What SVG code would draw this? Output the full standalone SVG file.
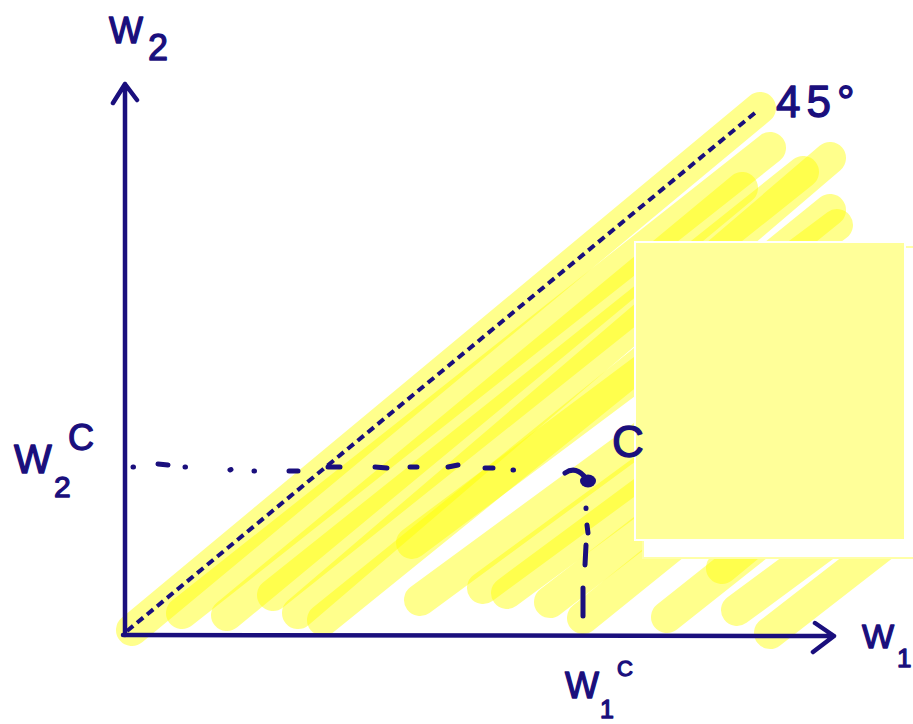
<svg xmlns="http://www.w3.org/2000/svg" width="913" height="724" viewBox="0 0 913 724">
<style>
.ink{stroke:#1a0f7d;fill:none;stroke-width:4.5;stroke-linecap:round;stroke-linejoin:round}
.dot{stroke:#1a0f7d;fill:none;stroke-width:5;stroke-linecap:round}
.hl{stroke:#ffff00;stroke-opacity:0.45;fill:none;stroke-width:32;stroke-linecap:round}
.t{font-family:"Liberation Sans","DejaVu Sans",sans-serif;fill:#1a0f7d;stroke:#1a0f7d;stroke-width:1.3;stroke-linejoin:round}
</style>
<rect width="913" height="724" fill="#ffffff"/>
<g id="highlight">
<path class="hl" d="M132,630 L760,108"/>
<path class="hl" d="M182,613 L770,148"/>
<path class="hl" d="M227,615 L742,188"/>
<path class="hl" d="M273,595 L803,172"/>
<path class="hl" d="M298,613 L830,158"/>
<path class="hl" d="M323,620 L830,210"/>
<path class="hl" d="M412,543 L837,225"/>
<path class="hl" d="M420,600 L880,262"/>
<path class="hl" d="M483,588 L900,282"/>
<path class="hl" d="M507,593 L900,302"/>
<path class="hl" d="M550,602 L900,332"/>
<path class="hl" d="M583,618 L900,362"/>
<path class="hl" d="M667,617 L900,432"/>
<path class="hl" d="M722,568 L900,420"/>
<path class="hl" d="M737,610 L913,480"/>
<path class="hl" d="M770,633 L913,522"/>
</g>
<g id="panel">
<rect x="643" y="247" width="275" height="311" fill="#ffffff" stroke="#ffffa8" stroke-width="2"/>
<rect x="635" y="242" width="270" height="298" fill="#ffff99" stroke="#ffffff" stroke-width="2"/>
</g>
<g id="connectors">
<path class="ink" d="M125,635 L125,84 M113,103 L125,84 L137,100"/>
<path class="ink" d="M123,635 L834,636 M815,623 L834,636 L813,652"/>
<path d="M127,631 L756,112" stroke="#1a0f7d" stroke-width="4" stroke-dasharray="8,5" fill="none"/>
<path class="dot" d="M133,467 L133.5,467 M158,464 L168,465 M185,467 L185.5,467 M230,470 L231,469.5 M254,471 L254.5,471 M289,471 L298,471 M328,467 L340,467 M375,467 L387,468 M410,467 L417,467 M448,467 L458,465 M485,468 L493,468 M513,470 L513.5,470"/>
<path class="dot" d="M586,508 L586,508.5 M587,525 L588,533 M586,545 L585,565 M583,588 L583,616"/>
</g>
<g id="pointC">
<ellipse cx="588" cy="481" rx="8" ry="6.5" fill="#1a0f7d"/>
<path class="dot" d="M565,473 Q575,466 584,476"/>
</g>
<g id="labels">
<text class="t" x="109" y="43" font-size="36">W</text>
<text class="t" x="148" y="60" font-size="36">2</text>
<text class="t" x="776" y="117" font-size="44" letter-spacing="6">45°</text>
<text class="t" x="14" y="473" font-size="40">W</text>
<text class="t" x="54" y="497" font-size="30">2</text>
<text class="t" x="68" y="450" font-size="36">C</text>
<text class="t" x="612" y="457" font-size="44">C</text>
<text class="t" x="565" y="698" font-size="36">W</text>
<text class="t" x="600" y="718" font-size="25">1</text>
<text class="t" x="617" y="676" font-size="22">C</text>
<text class="t" x="862" y="648" font-size="34">W</text>
<text class="t" x="897" y="667" font-size="26">1</text>
</g>
</svg>
